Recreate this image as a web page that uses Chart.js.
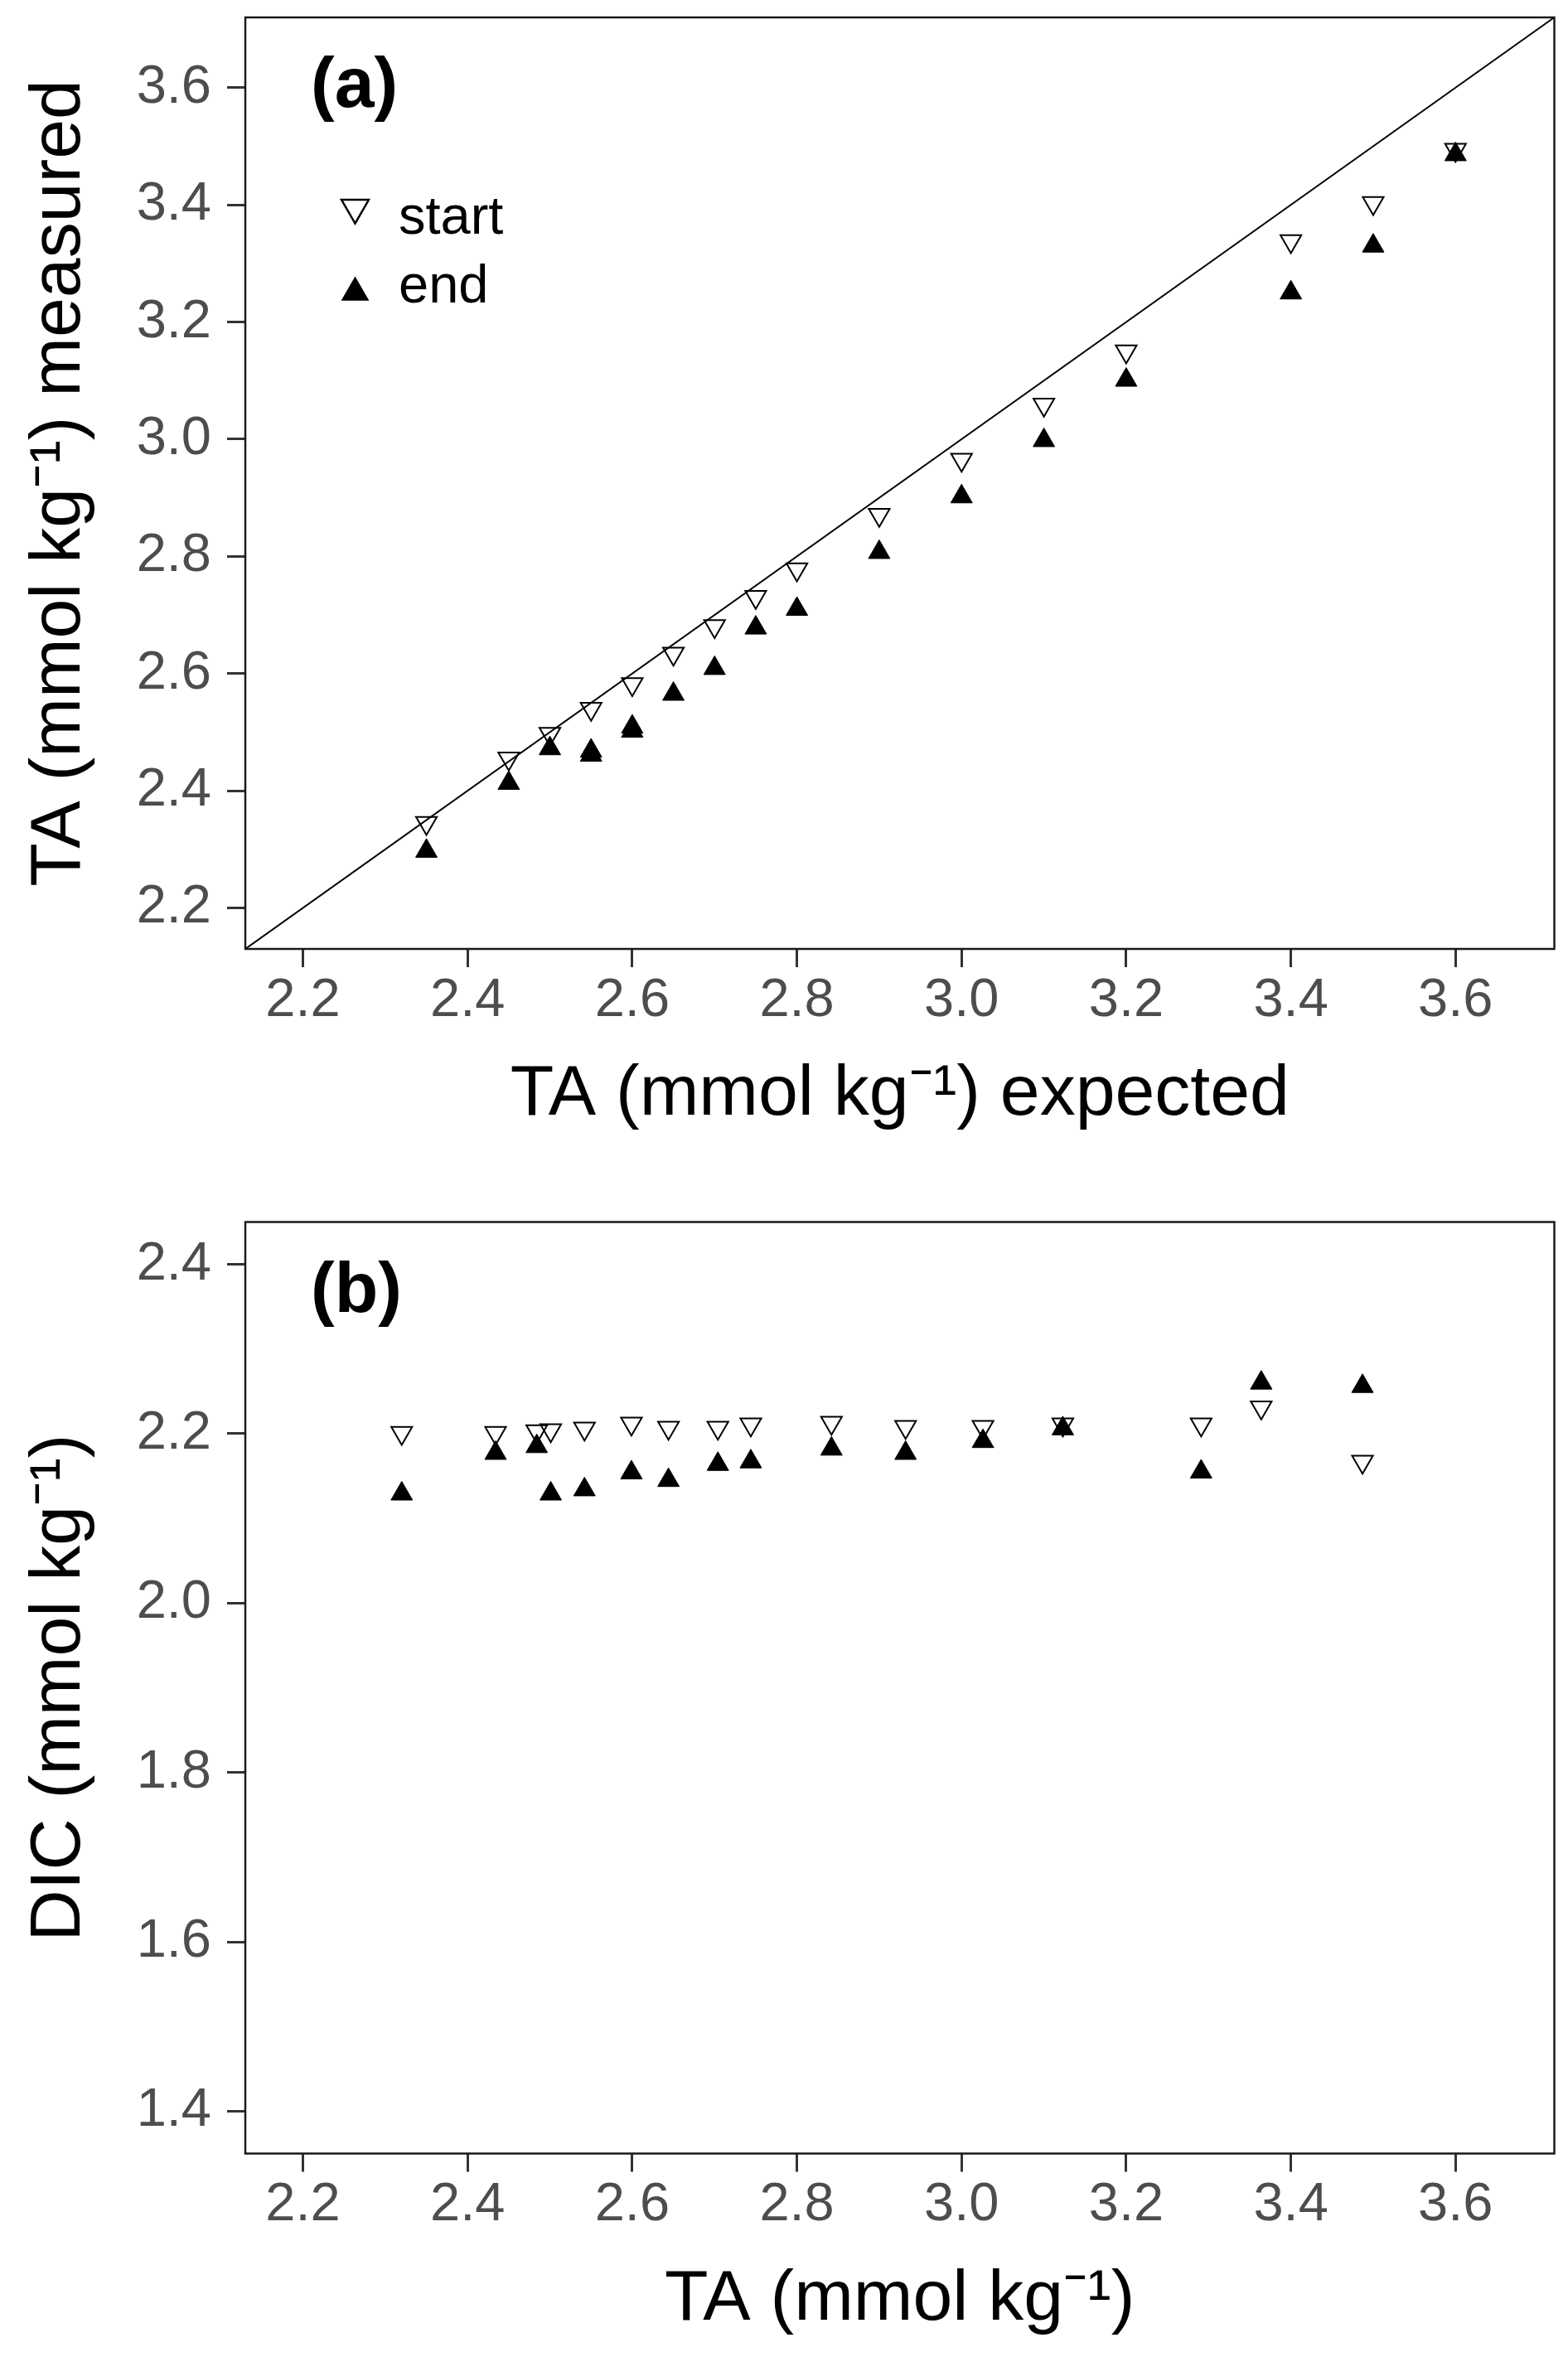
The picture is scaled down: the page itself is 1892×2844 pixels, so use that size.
<!DOCTYPE html>
<html>
<head>
<meta charset="utf-8">
<script src="https://cdn.jsdelivr.net/npm/chart.js@4.4.0/dist/chart.umd.min.js"></script>
<style>
html,body{margin:0;padding:0;background:#fff;width:1892px;height:2844px;overflow:hidden}
canvas{position:absolute;left:0}
#ca{top:0}
#cb{top:1420px}
</style>
</head>
<body>
<canvas id="ca" width="1892" height="1420" style="width:1892px;height:1420px"></canvas>
<canvas id="cb" width="1892" height="1424" style="width:1892px;height:1424px"></canvas>
<script>
// ---------- data ----------
const seriesLabels = ['start', 'end'];

// panel (a): expected vs measured TA
const taExpected      = [2.35, 2.45, 2.50, 2.55, 2.60, 2.65, 2.70, 2.75, 2.80, 2.90, 3.00, 3.10, 3.20, 3.40, 3.50, 3.60];
const taMeasuredStart = [2.345, 2.455, 2.497, 2.540, 2.582, 2.634, 2.681, 2.731, 2.778, 2.871, 2.965, 3.059, 3.150, 3.338, 3.403, 3.494];
const taExpectedEnd   = [2.35, 2.45, 2.50, 2.55, 2.55, 2.60, 2.60, 2.65, 2.70, 2.75, 2.80, 2.90, 3.00, 3.10, 3.20, 3.40, 3.50, 3.60];
const taMeasuredEnd   = [2.297, 2.413, 2.472, 2.461, 2.468, 2.502, 2.509, 2.565, 2.609, 2.678, 2.710, 2.807, 2.902, 2.998, 3.101, 3.250, 3.330, 3.486];

// panel (b): TA vs DIC
const taSample = [2.320, 2.434, 2.484, 2.501, 2.542, 2.599, 2.644, 2.704, 2.744, 2.842, 2.932, 3.026, 3.123, 3.291, 3.364, 3.487];
const dicStart = [2.201, 2.201, 2.203, 2.204, 2.206, 2.212, 2.207, 2.207, 2.211, 2.213, 2.208, 2.208, 2.211, 2.211, 2.231, 2.167];
const dicEnd   = [2.129, 2.177, 2.185, 2.129, 2.134, 2.154, 2.145, 2.164, 2.167, 2.182, 2.177, 2.191, 2.206, 2.155, 2.260, 2.256];

// axes
const xTicks  = [2.2, 2.4, 2.6, 2.8, 3.0, 3.2, 3.4, 3.6];
const yTicksA = [2.2, 2.4, 2.6, 2.8, 3.0, 3.2, 3.4, 3.6];
const yTicksB = [1.4, 1.6, 1.8, 2.0, 2.2, 2.4];
const rangeTA  = [2.13, 3.72];
const rangeDIC = [1.35, 2.45];
const panelLabels = ['(a)', '(b)'];
const axisTitles = {
  xA: 'TA (mmol kg\u207B\u00B9) expected',
  yA: 'TA (mmol kg\u207B\u00B9) measured',
  xB: 'TA (mmol kg\u207B\u00B9)',
  yB: 'DIC (mmol kg\u207B\u00B9)'
};

// ---------- helpers ----------
const FONT = "'Liberation Sans', Arial, Helvetica, sans-serif";
const pts = (xs, ys) => xs.map((x, i) => ({x: x, y: ys[i]}));

function triangle(ctx, x, y, r, down) {
  const s = down ? -1 : 1;
  ctx.beginPath();
  ctx.moveTo(x, y - s * r);
  ctx.lineTo(x + r * Math.sin(2 * Math.PI / 3), y + s * r / 2);
  ctx.lineTo(x - r * Math.sin(2 * Math.PI / 3), y + s * r / 2);
  ctx.closePath();
}

const decor = {
  id: 'decor',
  afterDatasetsDraw(chart, args, opts) {
    const ctx = chart.ctx, a = chart.chartArea;
    ctx.save();
    ctx.lineWidth = 2.5;
    ctx.strokeStyle = '#1a1a1a';
    ctx.strokeRect(a.left, a.top, a.right - a.left, a.bottom - a.top);
    ctx.fillStyle = '#000';
    ctx.textAlign = 'left';
    ctx.textBaseline = 'alphabetic';
    ctx.font = 'bold 86px ' + FONT;
    ctx.fillText(opts.label, a.left + 79, a.top + 108);
    if (opts.legend) {
      const rows = [
        {mx: 132.5, my: 229.5, ty: 260.5, down: true},
        {mx: 132.5, my: 332, ty: 344, down: false}
      ];
      ctx.font = '65px ' + FONT;
      seriesLabels.forEach((lab, i) => {
        const r = rows[i];
        triangle(ctx, a.left + r.mx, a.top + r.my, r.down ? 19 : 19.5, r.down);
        if (r.down) { ctx.lineWidth = 2.5; ctx.strokeStyle = '#000'; ctx.stroke(); }
        else { ctx.fillStyle = '#000'; ctx.fill(); }
        ctx.fillStyle = '#000';
        ctx.fillText(lab, a.left + 185, a.top + r.ty);
      });
    }
    ctx.restore();
  }
};

function noPad(s) { s.paddingTop = 0; s.paddingBottom = 0; s.paddingLeft = 0; s.paddingRight = 0; }

function xAxis(title, range, axisHeight, titlePad) {
  return {
    type: 'linear', position: 'bottom', min: range[0], max: range[1],
    afterBuildTicks: s => { s.ticks = xTicks.map(v => ({value: v})); },
    afterFit: s => { s.height = axisHeight; noPad(s); },
    ticks: { callback: v => Number(v).toFixed(1), font: {family: FONT, size: 65}, color: '#4d4d4d', padding: 2, maxRotation: 0, autoSkip: false },
    grid: { display: true, drawOnChartArea: false, drawTicks: true, tickLength: 22, tickWidth: 3, tickColor: '#333333' },
    border: { display: false },
    title: { display: true, text: title, font: {family: FONT, size: 86}, color: '#000', padding: {top: 0, bottom: titlePad} }
  };
}
function yAxis(title, range, ticks) {
  return {
    type: 'linear', position: 'left', min: range[0], max: range[1],
    afterBuildTicks: s => { s.ticks = ticks.map(v => ({value: v})); },
    afterFit: s => { s.width = 296; noPad(s); },
    ticks: { callback: v => Number(v).toFixed(1), font: {family: FONT, size: 65}, color: '#4d4d4d', padding: 19, autoSkip: false },
    grid: { display: true, drawOnChartArea: false, drawTicks: true, tickLength: 22, tickWidth: 3, tickColor: '#333333' },
    border: { display: false },
    title: { display: true, text: title, font: {family: FONT, size: 86}, color: '#000', padding: {top: 21, bottom: 0} }
  };
}

const startStyle = { pointStyle: 'triangle', pointRotation: 180, pointRadius: 14.5, pointBorderWidth: 2, pointBorderColor: '#000', pointBackgroundColor: 'rgba(0,0,0,0)', borderColor: '#000', backgroundColor: 'rgba(0,0,0,0)' };
const endStyle   = { pointStyle: 'triangle', pointRadius: 15, pointBorderWidth: 1, pointBorderColor: '#000', pointBackgroundColor: '#000', borderColor: '#000', backgroundColor: '#000' };

const common = (padTop) => ({
  responsive: false, maintainAspectRatio: false, animation: false, events: [],
  layout: { padding: { left: 0, right: 12, top: padTop, bottom: 0 } },
  plugins: { legend: { display: false }, tooltip: { enabled: false } }
});

// ---------- panel (a) ----------
const optA = common(21);
optA.scales = { x: xAxis(axisTitles.xA, rangeTA, 275, 47), y: yAxis(axisTitles.yA, rangeTA, yTicksA) };
optA.plugins.decor = { label: panelLabels[0], legend: true };
new Chart(document.getElementById('ca'), {
  type: 'scatter',
  data: { datasets: [
    Object.assign({ label: seriesLabels[0], data: pts(taExpected, taMeasuredStart), order: 2 }, startStyle),
    Object.assign({ label: seriesLabels[1], data: pts(taExpectedEnd, taMeasuredEnd), order: 1 }, endStyle),
    { label: '1:1', data: pts(rangeTA, rangeTA), showLine: true, pointRadius: 0, borderColor: '#000', borderWidth: 2, order: 3 }
  ]},
  options: optA,
  plugins: [decor]
});

// ---------- panel (b) ----------
const optB = common(54.5);
optB.scales = { x: xAxis(axisTitles.xB, rangeTA, 245.5, 17.5), y: yAxis(axisTitles.yB, rangeDIC, yTicksB) };
optB.plugins.decor = { label: panelLabels[1], legend: false };
new Chart(document.getElementById('cb'), {
  type: 'scatter',
  data: { datasets: [
    Object.assign({ label: seriesLabels[0], data: pts(taSample, dicStart), order: 2 }, startStyle),
    Object.assign({ label: seriesLabels[1], data: pts(taSample, dicEnd), order: 1 }, endStyle)
  ]},
  options: optB,
  plugins: [decor]
});
</script>
</body>
</html>
